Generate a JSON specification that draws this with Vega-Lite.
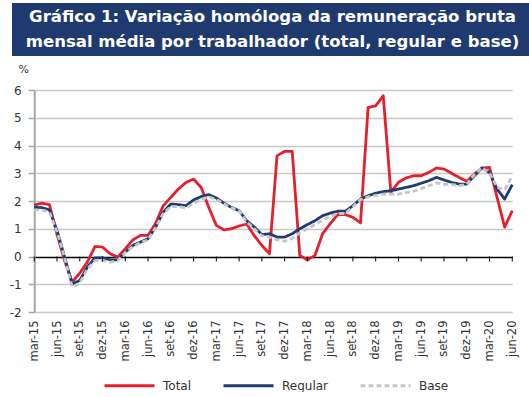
{
  "$schema": "https://vega.github.io/schema/vega-lite/v6.json",
  "padding": {"left": 3, "top": 3, "right": 5, "bottom": 0},
  "background": "white",
  "config": {"font": "DejaVu Sans", "view": {"stroke": null}},
  "center": true,
  "spacing": 7,
  "vconcat": [
    {
      "width": 521,
      "height": 53,
      "view": {"fill": "#1F3A6E", "stroke": null},
      "data": {"values": [
        {"line": 1, "text": "Gráfico 1: Variação homóloga da remuneração bruta"},
        {"line": 2, "text": "mensal média por trabalhador (total, regular e base)"}
      ]},
      "mark": {"type": "text", "font": "DejaVu Sans", "fontWeight": "bold", "fontSize": 16.5, "color": "white", "baseline": "middle", "align": "center"},
      "encoding": {
        "y": {
          "field": "line", "type": "ordinal", "scale": {"padding": 0.56},
          "axis": {"orient": "right", "labels": false, "ticks": false, "domain": false, "grid": false,
                   "title": " ", "titleAngle": 0, "titleX": 7, "titleY": 20, "titleAlign": "right", "titleFontSize": 6}
        },
        "text": {"field": "text"}
      }
    },
    {
      "width": 478,
      "height": 222,
      "data": {"values": [
        {"m": "mar-15", "Total": 1.85, "Regular": 1.77, "Base": 1.68},
        {"m": "abr-15", "Total": 1.92, "Regular": 1.76, "Base": 1.68},
        {"m": "mai-15", "Total": 1.87, "Regular": 1.68, "Base": 1.6},
        {"m": "jun-15", "Total": 0.8, "Regular": 0.94, "Base": 0.9},
        {"m": "jul-15", "Total": -0.15, "Regular": -0.02, "Base": -0.05},
        {"m": "ago-15", "Total": -0.92, "Regular": -1.0, "Base": -1.1},
        {"m": "set-15", "Total": -0.6, "Regular": -0.86, "Base": -0.95},
        {"m": "out-15", "Total": -0.2, "Regular": -0.38, "Base": -0.45},
        {"m": "nov-15", "Total": 0.36, "Regular": -0.05, "Base": -0.15},
        {"m": "dez-15", "Total": 0.34, "Regular": -0.05, "Base": -0.15},
        {"m": "jan-16", "Total": 0.1, "Regular": -0.12, "Base": -0.2},
        {"m": "fev-16", "Total": -0.02, "Regular": -0.12, "Base": -0.15},
        {"m": "mar-16", "Total": 0.28, "Regular": 0.16, "Base": 0.15},
        {"m": "abr-16", "Total": 0.6, "Regular": 0.4, "Base": 0.35},
        {"m": "mai-16", "Total": 0.76, "Regular": 0.52, "Base": 0.5},
        {"m": "jun-16", "Total": 0.76, "Regular": 0.64, "Base": 0.6},
        {"m": "jul-16", "Total": 1.2, "Regular": 1.06, "Base": 1.05},
        {"m": "ago-16", "Total": 1.83, "Regular": 1.6, "Base": 1.55},
        {"m": "set-16", "Total": 2.13, "Regular": 1.89, "Base": 1.8},
        {"m": "out-16", "Total": 2.43, "Regular": 1.87, "Base": 1.8},
        {"m": "nov-16", "Total": 2.67, "Regular": 1.83, "Base": 1.75},
        {"m": "dez-16", "Total": 2.79, "Regular": 2.04, "Base": 1.9},
        {"m": "jan-17", "Total": 2.49, "Regular": 2.16, "Base": 2.05},
        {"m": "fev-17", "Total": 1.77, "Regular": 2.23, "Base": 2.15},
        {"m": "mar-17", "Total": 1.12, "Regular": 2.11, "Base": 2.05},
        {"m": "abr-17", "Total": 0.96, "Regular": 1.92, "Base": 1.9},
        {"m": "mai-17", "Total": 1.0, "Regular": 1.77, "Base": 1.75},
        {"m": "jun-17", "Total": 1.1, "Regular": 1.65, "Base": 1.65},
        {"m": "jul-17", "Total": 1.17, "Regular": 1.29, "Base": 1.25},
        {"m": "ago-17", "Total": 0.75, "Regular": 1.06, "Base": 1.0},
        {"m": "set-17", "Total": 0.4, "Regular": 0.79, "Base": 0.75},
        {"m": "out-17", "Total": 0.1, "Regular": 0.82, "Base": 0.7},
        {"m": "nov-17", "Total": 3.63, "Regular": 0.7, "Base": 0.6},
        {"m": "dez-17", "Total": 3.79, "Regular": 0.7, "Base": 0.55},
        {"m": "jan-18", "Total": 3.79, "Regular": 0.82, "Base": 0.65},
        {"m": "fev-18", "Total": 0.04, "Regular": 1.0, "Base": 0.85},
        {"m": "mar-18", "Total": -0.12, "Regular": 1.15, "Base": 1.0},
        {"m": "abr-18", "Total": 0.04, "Regular": 1.29, "Base": 1.15},
        {"m": "mai-18", "Total": 0.82, "Regular": 1.47, "Base": 1.3},
        {"m": "jun-18", "Total": 1.18, "Regular": 1.56, "Base": 1.45},
        {"m": "jul-18", "Total": 1.51, "Regular": 1.63, "Base": 1.55},
        {"m": "ago-18", "Total": 1.51, "Regular": 1.63, "Base": 1.55},
        {"m": "set-18", "Total": 1.41, "Regular": 1.83, "Base": 1.8},
        {"m": "out-18", "Total": 1.21, "Regular": 2.07, "Base": 2.05},
        {"m": "nov-18", "Total": 5.37, "Regular": 2.19, "Base": 2.15},
        {"m": "dez-18", "Total": 5.43, "Regular": 2.28, "Base": 2.2},
        {"m": "jan-19", "Total": 5.79, "Regular": 2.34, "Base": 2.25},
        {"m": "fev-19", "Total": 2.31, "Regular": 2.37, "Base": 2.25},
        {"m": "mar-19", "Total": 2.67, "Regular": 2.43, "Base": 2.25},
        {"m": "abr-19", "Total": 2.83, "Regular": 2.49, "Base": 2.3},
        {"m": "mai-19", "Total": 2.91, "Regular": 2.55, "Base": 2.35},
        {"m": "jun-19", "Total": 2.91, "Regular": 2.64, "Base": 2.45},
        {"m": "jul-19", "Total": 3.03, "Regular": 2.73, "Base": 2.55},
        {"m": "ago-19", "Total": 3.19, "Regular": 2.85, "Base": 2.65},
        {"m": "set-19", "Total": 3.15, "Regular": 2.76, "Base": 2.6},
        {"m": "out-19", "Total": 3.0, "Regular": 2.67, "Base": 2.6},
        {"m": "nov-19", "Total": 2.85, "Regular": 2.61, "Base": 2.55},
        {"m": "dez-19", "Total": 2.71, "Regular": 2.61, "Base": 2.6},
        {"m": "jan-20", "Total": 2.97, "Regular": 2.91, "Base": 2.95},
        {"m": "fev-20", "Total": 3.19, "Regular": 3.19, "Base": 3.2},
        {"m": "mar-20", "Total": 3.21, "Regular": 3.03, "Base": 3.0},
        {"m": "abr-20", "Total": 2.13, "Regular": 2.43, "Base": 2.5},
        {"m": "mai-20", "Total": 1.06, "Regular": 2.07, "Base": 2.4},
        {"m": "jun-20", "Total": 1.65, "Regular": 2.59, "Base": 2.9}
      ]},
      "transform": [{"fold": ["Total", "Regular", "Base"], "as": ["k", "v"]}],
      "encoding": {
        "x": {
          "field": "m", "type": "ordinal", "sort": null,
          "scale": {"type": "point", "padding": 0},
          "axis": {
            "values": ["mar-15","jun-15","set-15","dez-15","mar-16","jun-16","set-16","dez-16","mar-17","jun-17","set-17","dez-17","mar-18","jun-18","set-18","dez-18","mar-19","jun-19","set-19","dez-19","mar-20","jun-20"],
            "labelAngle": -90, "domain": false, "ticks": false, "grid": false,
            "title": " ", "titleX": -31, "titleY": 20, "titleAlign": "left", "titleFontSize": 6,
            "labelFontSize": 11.5, "labelPadding": 8, "labelColor": "#333333"
          }
        },
        "y": {
          "field": "v", "type": "quantitative",
          "scale": {"domain": [-2, 6], "nice": false, "zero": false},
          "axis": {
            "values": [-2, -1, 0, 1, 2, 3, 4, 5, 6],
            "labelExpr": "'' + datum.value",
            "title": "%", "titleAngle": 0, "titleX": -11, "titleY": -21,
            "titleAlign": "center", "titleBaseline": "middle",
            "titleFontWeight": "normal", "titleFontSize": 11, "titleColor": "#333333",
            "domainColor": "#a6a6a6", "domainWidth": 2,
            "tickColor": "#a6a6a6", "tickSize": 6, "tickWidth": 1.5,
            "gridColor": {"condition": {"test": "datum.value === 0", "value": "#000000"}, "value": "#c8c8c8"},
            "gridWidth": 1.5,
            "labelFontSize": 12, "labelPadding": 7, "labelColor": "#333333"
          }
        }
      },
      "layer": [
        {
          "mark": {"type": "line", "strokeWidth": 2.8, "strokeJoin": "round"},
          "encoding": {
            "color": {
              "field": "k", "type": "nominal",
              "scale": {"domain": ["Total", "Regular", "Base"], "range": ["#E4202B", "#1F3D73", "#C6C6C6"]},
              "legend": {
                "title": null, "orient": "none", "direction": "horizontal",
                "legendX": 91, "legendY": 356,
                "symbolType": "stroke", "symbolSize": 2500, "symbolStrokeWidth": 3,
                "labelFontSize": 12, "labelOffset": 7, "columnPadding": 25, "labelColor": "#333333"
              }
            },
            "strokeDash": {
              "field": "k", "type": "nominal",
              "scale": {"domain": ["Total", "Regular", "Base"], "range": [[1, 0], [1, 0], [5, 3]]},
              "legend": {
                "title": null, "orient": "none", "direction": "horizontal",
                "legendX": 91, "legendY": 356,
                "symbolType": "stroke", "symbolSize": 2500, "symbolStrokeWidth": 3,
                "labelFontSize": 12, "labelOffset": 7, "columnPadding": 25, "labelColor": "#333333"
              }
            }
          }
        },
        {
          "mark": {"type": "rule", "color": "#000000", "strokeWidth": 1},
          "encoding": {
            "y": {"datum": 0},
            "y2": {"datum": -0.18},
            "strokeOpacity": {"condition": {"test": "datum.k === 'Total' && test(/^(mar|jun|set|dez)/, datum.m)", "value": 1}, "value": 0}
          }
        }
      ]
    }
  ]
}
